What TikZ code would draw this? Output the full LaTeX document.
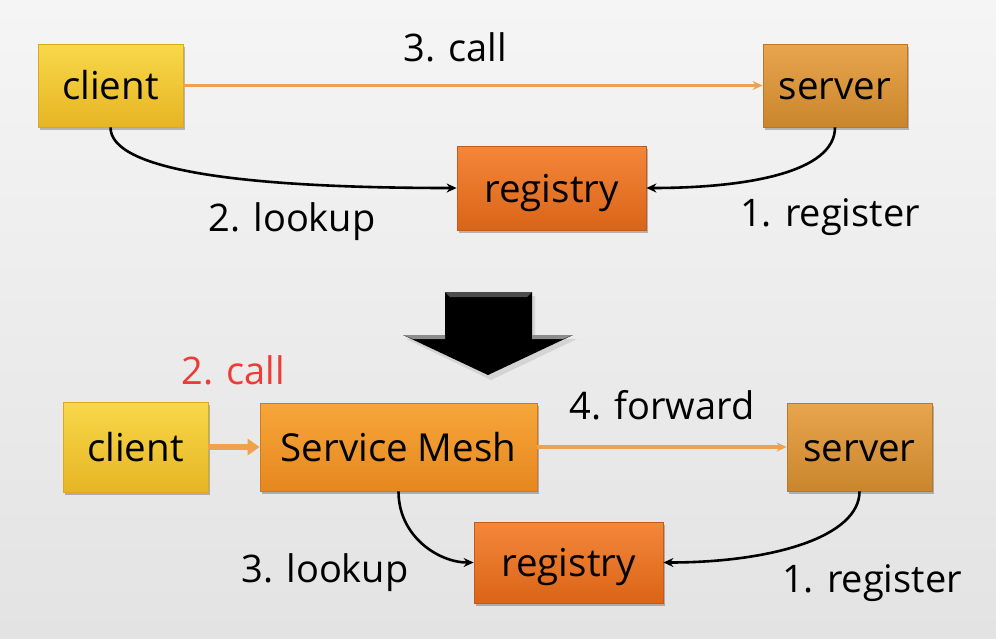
\documentclass[tikz,border=0pt]{standalone}
\usepackage{fontspec}
\setmainfont{Open Sans}
\usetikzlibrary{arrows.meta,shadows}
\definecolor{bgtop}{HTML}{F5F5F5}
\definecolor{bgbot}{HTML}{E3E3E3}
\definecolor{cliT}{HTML}{F8D84A}
\definecolor{cliB}{HTML}{E6B524}
\definecolor{cliD}{HTML}{D9A920}
\definecolor{srvT}{HTML}{E8A54E}
\definecolor{srvB}{HTML}{C9862C}
\definecolor{srvD}{HTML}{B87828}
\definecolor{regT}{HTML}{F4873A}
\definecolor{regB}{HTML}{DA6418}
\definecolor{regD}{HTML}{C45A18}
\definecolor{smT}{HTML}{F6A63A}
\definecolor{smB}{HTML}{E6871F}
\definecolor{smD}{HTML}{D07A1C}
\definecolor{orline}{HTML}{F0A150}
\definecolor{redlbl}{HTML}{EE3B35}
\tikzset{
  box/.style={rectangle, inner sep=0pt, font=\fontsize{38.5}{42}\selectfont, text=black,
    text height=31pt, text depth=3pt,
    drop shadow={shadow xshift=2pt, shadow yshift=-3pt, opacity=0.25, fill=black}},
  clientbox/.style={box, top color=cliT, bottom color=cliB, draw=cliD, line width=0.8pt},
  serverbox/.style={box, top color=srvT, bottom color=srvB, draw=srvD, line width=0.8pt},
  regbox/.style={box, top color=regT, bottom color=regB, draw=regD, line width=0.8pt},
  meshbox/.style={box, top color=smT, bottom color=smB, draw=smD, line width=0.8pt},
  lbl/.style={font=\fontsize{38}{42}\selectfont, text=black, inner sep=0pt},
  blackarrow/.style={line width=2.6pt, black, -{Stealth[length=10pt,width=9pt]}},
  orangearrow/.style={line width=3.5pt, orline, -{Stealth[length=10pt,width=9pt]}},
  fatarrow/.style={line width=6pt, orline, -{Triangle[length=12pt,width=16pt]}}
}
\begin{document}
\begin{tikzpicture}[x=1pt,y=1pt]
\shade[top color=bgtop, bottom color=bgbot] (0,0) rectangle (996,-638);
\useasboundingbox (0,0) rectangle (996,-638);

% ---------- top diagram ----------
\node[clientbox, minimum width=145pt, minimum height=83pt] (c1) at (110.5,-85.5) {client};
\node[serverbox, minimum width=144pt, minimum height=83pt] (s1) at (835,-85.5) {server};
\node[regbox, minimum width=189pt, minimum height=84pt] (r1) at (551.5,-188) {registry};

\draw[orangearrow] (c1.east) -- (s1.west);
\draw[blackarrow] (c1.south) .. controls +(0,-42) and +(-220,0) .. (r1.west);
\draw[blackarrow] (s1.south) .. controls +(0,-45) and +(100,0) .. (r1.east);

\node[lbl] (t3) at (455,-47) {3. call};
\node[lbl] (t2) at (292,-222) {2. lookup};
\node[lbl] (t1) at (830,-217) {1. register};

% ---------- big down arrow ----------
\fill[black!25, opacity=0.5] (448,-296) -- (535,-296) -- (535,-339) -- (577,-339) -- (491,-380) -- (406,-339) -- (448,-339) -- cycle;
\fill[black] (445,-292) -- (532,-292) -- (532,-335) -- (573,-335) -- (488,-375) -- (403,-335) -- (445,-335) -- cycle;
\fill[black!70] (445,-292) -- (532,-292) -- (527,-297) -- (450,-297) -- cycle;
\fill[black!45] (532,-335) -- (573,-335) -- (563,-339) -- (532,-339) -- cycle;
\fill[black!45] (445,-335) -- (403,-335) -- (413,-339) -- (445,-339) -- cycle;
\node[inner sep=0pt] (bigarrow) at (488,-330) {};

% ---------- bottom diagram ----------
\node[clientbox, minimum width=145pt, minimum height=90pt] (c2) at (135.5,-447) {client};
\node[meshbox, minimum width=277pt, minimum height=88pt] (m2) at (398.5,-447) {Service Mesh};
\node[serverbox, minimum width=145pt, minimum height=88pt] (s2) at (859.5,-447) {server};
\node[regbox, minimum width=189pt, minimum height=81pt] (r2) at (568.5,-562.5) {registry};

\draw[fatarrow] (c2.east) -- (m2.west);
\draw[orangearrow] (m2.east) -- (s2.west);
\draw[blackarrow] (m2.south) .. controls +(0,-45) and +(-35,0) .. (r2.west);
\draw[blackarrow] (s2.south) .. controls +(0,-45) and +(110,0) .. (r2.east);

\node[lbl, text=redlbl] (b2) at (233,-370) {2. call};
\node[lbl] (b4) at (662,-405) {4. forward};
\node[lbl] (b3) at (325,-573) {3. lookup};
\node[lbl] (b1) at (872,-583) {1. register};
\end{tikzpicture}
\end{document}
